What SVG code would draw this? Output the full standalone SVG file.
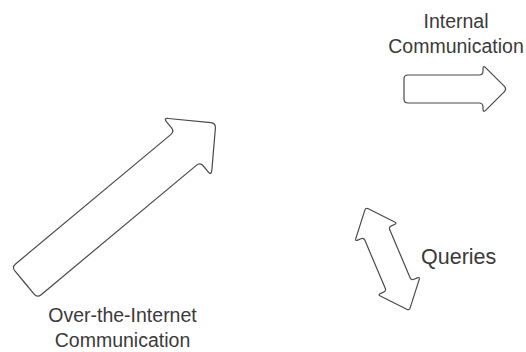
<svg xmlns="http://www.w3.org/2000/svg" width="526" height="352" viewBox="0 0 526 352">
<style>
.arrow{fill:#ffffff;stroke:#4a4a4a;stroke-width:1.2;stroke-linejoin:round}
.lbl{font-family:"Liberation Sans",Arial,sans-serif;font-size:19.5px;fill:#3a3a3a;text-anchor:middle}
.q{font-size:21.5px;text-anchor:start}
</style>
<rect width="526" height="352" fill="#ffffff"/>
<g id="internet-arrow" transform="translate(24.5,282.5) rotate(-39.8)">
<path class="arrow" d="M0,0 L0,-15 Q0,-20 5,-20 L207,-20 Q212,-20 212,-25 L212,-32.5 Q212,-37.5 215.5,-33.94 L245.5,-3.56 Q249,0 245.5,3.56 L215.5,33.94 Q212,37.5 212,32.5 L212,25 Q212,20 207,20 L5,20 Q0,20 0,15 Z"/>
</g>
<g id="internet-label">
<text class="lbl" x="122.5" y="321.5">Over-the-Internet</text>
<text class="lbl" x="122.5" y="347">Communication</text>
</g>
<g id="internal-arrow">
<path class="arrow" d="M404,89 L404,79 Q404,75 408,75 L479,75 Q483,75 483,71 L483,69 Q483,65 485.8,67.8 L504.2,86.2 Q507,89 504.2,91.8 L485.8,110.2 Q483,113 483,109 L483,107 Q483,103 479,103 L408,103 Q404,103 404,99 Z"/>
</g>
<g id="internal-label">
<text class="lbl" x="456" y="27.5">Internal</text>
<text class="lbl" x="456" y="53">Communication</text>
</g>
<g id="queries-arrow" transform="translate(387.5,259) rotate(67)">
<path class="arrow" d="M0,-13.5 L26,-13.5 Q29,-13.5 29,-16.5 L29,-20 Q29,-23 31.3,-21.1 L53.7,-1.9 Q56,0 53.7,1.9 L31.3,21.1 Q29,23 29,20 L29,16.5 Q29,13.5 26,13.5 L-26,13.5 Q-29,13.5 -29,16.5 L-29,20 Q-29,23 -31.3,21.1 L-53.7,1.9 Q-56,0 -53.7,-1.9 L-31.3,-21.1 Q-29,-23 -29,-20 L-29,-16.5 Q-29,-13.5 -26,-13.5 Z"/>
</g>
<g id="queries-label">
<text class="lbl q" x="421" y="264">Queries</text>
</g>
<g id="connectors"></g>
</svg>
